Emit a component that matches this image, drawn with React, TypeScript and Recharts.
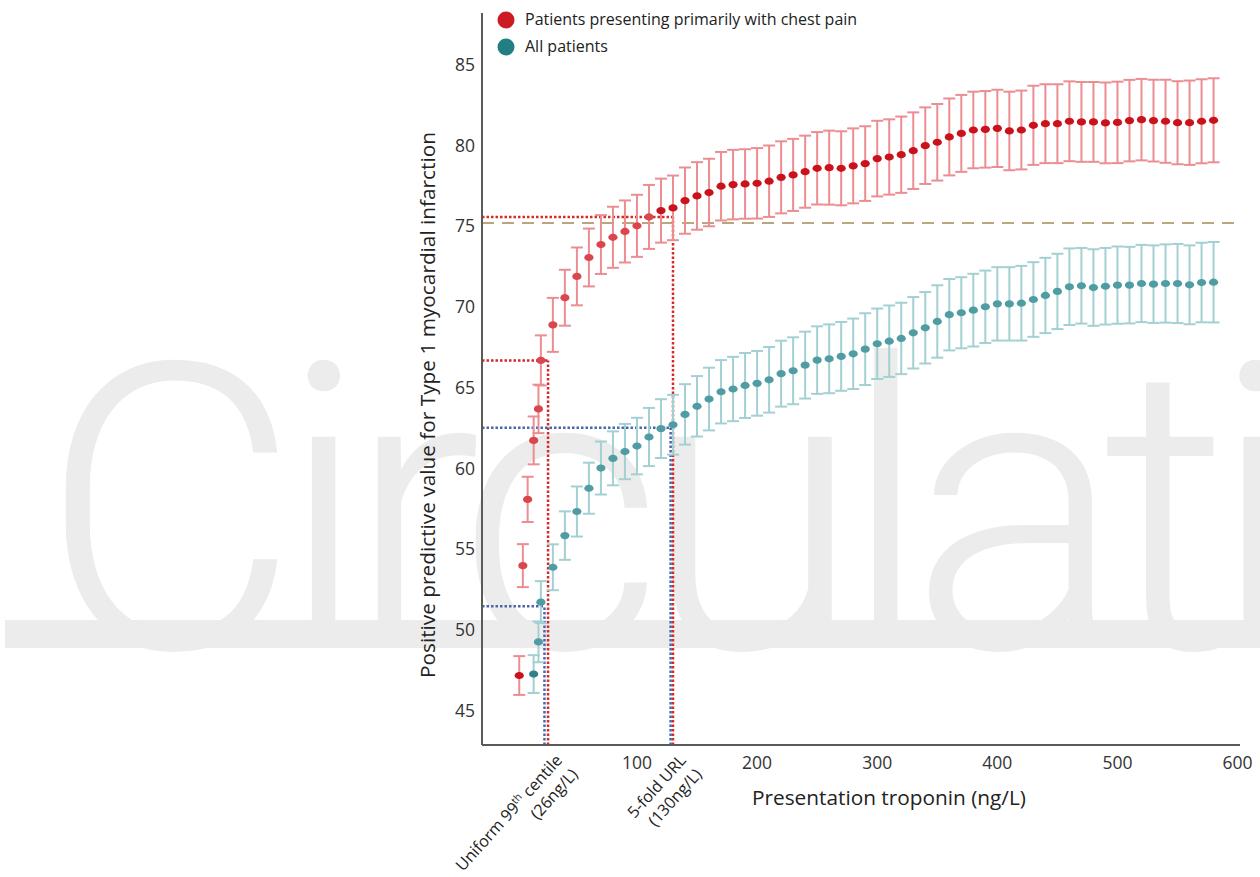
import {
  ScatterChart,
  Scatter,
  XAxis,
  YAxis,
  ErrorBar,
  ReferenceLine,
  Customized,
} from 'recharts';

// troponin thresholds (ng/L)
const chestPainX = [2, 5, 9, 14, 18, 20, 30, 40, 50, 60, 70, 80, 90, 100, 110, 120, 130, 140, 150, 160, 170, 180, 190, 200, 210, 220, 230, 240, 250, 260, 270, 280, 290, 300, 310, 320, 330, 340, 350, 360, 370, 380, 390, 400, 410, 420, 430, 440, 450, 460, 470, 480, 490, 500, 510, 520, 530, 540, 550, 560, 570, 580];
const chestPainPPV = [47.2, 54.0, 58.1, 61.75, 63.7, 66.7, 68.9, 70.58, 71.9, 73.07, 73.87, 74.32, 74.68, 75.03, 75.58, 75.97, 76.14, 76.59, 76.88, 77.09, 77.48, 77.58, 77.62, 77.66, 77.79, 78.03, 78.18, 78.38, 78.59, 78.63, 78.59, 78.74, 78.88, 79.19, 79.29, 79.43, 79.68, 79.99, 80.2, 80.53, 80.75, 80.96, 81.0, 81.06, 80.9, 80.96, 81.25, 81.35, 81.35, 81.5, 81.46, 81.46, 81.4, 81.43, 81.54, 81.6, 81.54, 81.5, 81.41, 81.41, 81.5, 81.56];
const chestPainErr = [1.2, 1.33, 1.4, 1.48, 1.5, 1.55, 1.67, 1.73, 1.79, 1.79, 1.82, 1.89, 1.92, 1.92, 1.98, 1.98, 2.0, 2.05, 2.09, 2.09, 2.12, 2.15, 2.15, 2.18, 2.21, 2.23, 2.23, 2.23, 2.24, 2.29, 2.29, 2.32, 2.31, 2.34, 2.33, 2.36, 2.37, 2.37, 2.37, 2.38, 2.38, 2.37, 2.37, 2.39, 2.43, 2.44, 2.45, 2.44, 2.44, 2.47, 2.47, 2.47, 2.5, 2.52, 2.52, 2.52, 2.53, 2.57, 2.57, 2.61, 2.6, 2.6];

const allX = [14, 18, 20, 30, 40, 50, 60, 70, 80, 90, 100, 110, 120, 130, 140, 150, 160, 170, 180, 190, 200, 210, 220, 230, 240, 250, 260, 270, 280, 290, 300, 310, 320, 330, 340, 350, 360, 370, 380, 390, 400, 410, 420, 430, 440, 450, 460, 470, 480, 490, 500, 510, 520, 530, 540, 550, 560, 570, 580];
const allPPV = [47.29, 49.28, 51.74, 53.9, 55.86, 57.35, 58.79, 60.04, 60.64, 61.06, 61.4, 61.96, 62.48, 62.72, 63.36, 63.86, 64.31, 64.76, 64.93, 65.15, 65.28, 65.5, 65.88, 66.06, 66.41, 66.72, 66.8, 66.95, 67.11, 67.4, 67.73, 67.89, 68.06, 68.41, 68.72, 69.11, 69.53, 69.65, 69.81, 70.02, 70.2, 70.2, 70.24, 70.47, 70.72, 70.97, 71.26, 71.32, 71.21, 71.29, 71.36, 71.36, 71.46, 71.42, 71.46, 71.46, 71.38, 71.52, 71.54];
const allErr = [1.17, 1.26, 1.3, 1.42, 1.5, 1.55, 1.58, 1.64, 1.67, 1.71, 1.75, 1.8, 1.82, 1.85, 1.87, 1.87, 1.94, 1.96, 1.99, 2.01, 2.0, 2.03, 2.04, 2.07, 2.07, 2.09, 2.13, 2.13, 2.18, 2.22, 2.18, 2.21, 2.21, 2.21, 2.21, 2.24, 2.21, 2.2, 2.25, 2.24, 2.27, 2.27, 2.31, 2.31, 2.33, 2.33, 2.37, 2.34, 2.37, 2.37, 2.39, 2.37, 2.39, 2.4, 2.42, 2.45, 2.44, 2.46, 2.49];

const xTicks = [26, 100, 130, 200, 300, 400, 500, 600];
const yTicks = [45, 50, 55, 60, 65, 70, 75, 80, 85];

// cut-off guides: [threshold, ppv]
const redGuides = [[26, 66.7], [130, 75.58]];
const blueGuides = [[23, 51.49], [128, 62.54]];
const dashedLevel = 75.2;

const X_MIN = -29;
const Y_MIN = 42.9;

const FONT = "'Open Sans', 'Noto Sans', sans-serif";

const chestPain = chestPainX.map((x, i) => ({ x, y: chestPainPPV[i], err: chestPainErr[i] }));
const allPatients = allX.map((x, i) => ({ x, y: allPPV[i], err: allErr[i] }));

const RedDot = (props: any) => {
  const { cx, cy, payload } = props;
  const light = payload.x > 3 && payload.x <= 110;
  return <ellipse cx={cx} cy={cy} rx={4.6} ry={3.6} fill={light ? '#d9464d' : '#c9121c'} />;
};

const TealDot = (props: any) => {
  const { cx, cy, payload } = props;
  return <ellipse cx={cx} cy={cy} rx={4.6} ry={3.6} fill={payload.x === 14 ? '#2f8388' : '#4f9ca2'} />;
};

const XTick = (props: any) => {
  const { x, y, payload } = props;
  const v = payload.value;
  if (v === 26) {
    return (
      <g transform={`translate(${x + 15},${y + 14}) rotate(-48)`} fontFamily={FONT} fontSize={16.2} fill="#222">
        <text textAnchor="end">
          Uniform 99<tspan fontSize={10.5} dy={-6}>th</tspan>
          <tspan dy={6}> centile</tspan>
        </text>
        <text y={21} textAnchor="end">(26ng/L)</text>
      </g>
    );
  }
  if (v === 130) {
    return (
      <g transform={`translate(${x + 14},${y + 14}) rotate(-48)`} fontFamily={FONT} fontSize={16.2} fill="#222">
        <text textAnchor="end">5-fold URL</text>
        <text y={21} textAnchor="end">(130ng/L)</text>
      </g>
    );
  }
  return (
    <text x={x} y={y + 22} textAnchor="middle" fontFamily={FONT} fontSize={17.5} fill="#333">
      {v}
    </text>
  );
};

const YTick = (props: any) => {
  const { x, y, payload } = props;
  return (
    <text x={x - 5} y={y + 6} textAnchor="end" fontFamily={FONT} fontSize={17.5} fill="#333">
      {payload.value}
    </text>
  );
};

const Overlay = () => (
  <g fontFamily={FONT}>
    <circle cx={506} cy={20} r={8.5} fill="#cc1b22" />
    <text x={525} y={25} fontSize={16} fill="#222">Patients presenting primarily with chest pain</text>
    <circle cx={506} cy={47} r={8.5} fill="#1f7f83" />
    <text x={525} y={52} fontSize={16} fill="#222">All patients</text>
    <text transform="translate(435,405) rotate(-90)" textAnchor="middle" fontSize={20.8} fill="#222">
      Positive predictive value for Type 1 myocardial infarction
    </text>
    <text x={889} y={805} textAnchor="middle" fontSize={20.8} fill="#222">
      Presentation troponin (ng/L)
    </text>
  </g>
);

const Watermark = () => (
  <svg width={1260} height={877} style={{ position: 'absolute', left: 0, top: 0 }}>
    <rect x={5} y={620} width={1255} height={28} fill="#ececec" />
    <text x={40} y={648} fontSize={400} fontFamily="Roboto, sans-serif" fontWeight={300} fill="#ececec" textLength={1260} lengthAdjust="spacing">
      Circulati
    </text>
  </svg>
);

const App = () => {
  return (
    <div style={{ position: 'absolute', left: 0, top: 0, width: 1260, height: 877, background: '#fff' }}>
      <Watermark />
      <div style={{ position: 'absolute', left: 0, top: 0 }}>
        <ScatterChart width={1260} height={877} margin={{ top: 13, right: 20, bottom: 0, left: 0 }}>
          <XAxis
            type="number"
            dataKey="x"
            domain={[X_MIN, 602]}
            ticks={xTicks}
            allowDataOverflow
            height={132}
            tickSize={0}
            tickLine={false}
            interval={0}
            axisLine={{ stroke: '#5a5a5a', strokeWidth: 2 }}
            tick={<XTick />}
          />
          <YAxis
            type="number"
            dataKey="y"
            domain={[Y_MIN, 88.2]}
            ticks={yTicks}
            allowDataOverflow
            width={482}
            tickSize={0}
            tickLine={false}
            interval={0}
            axisLine={{ stroke: '#5a5a5a', strokeWidth: 2 }}
            tick={<YTick />}
          />
          <ReferenceLine y={dashedLevel} stroke="#b9a67f" strokeWidth={2} strokeDasharray="12 8" />
          {redGuides.map(([gx, gy]) => (
            <ReferenceLine
              key={`rh${gx}`}
              segment={[{ x: X_MIN, y: gy }, { x: gx, y: gy }]}
              stroke="#d42a2a"
              strokeWidth={2.5}
              strokeDasharray="2.5 2"
              ifOverflow="visible"
            />
          ))}
          {redGuides.map(([gx, gy]) => (
            <ReferenceLine
              key={`rv${gx}`}
              segment={[{ x: gx, y: Y_MIN }, { x: gx, y: gy }]}
              stroke="#d42a2a"
              strokeWidth={2.5}
              strokeDasharray="2.5 2"
              ifOverflow="visible"
            />
          ))}
          {blueGuides.map(([gx, gy]) => (
            <ReferenceLine
              key={`bh${gx}`}
              segment={[{ x: X_MIN, y: gy }, { x: gx, y: gy }]}
              stroke="#4a66ad"
              strokeWidth={2.5}
              strokeDasharray="2.5 2"
              ifOverflow="visible"
            />
          ))}
          {blueGuides.map(([gx, gy]) => (
            <ReferenceLine
              key={`bv${gx}`}
              segment={[{ x: gx, y: Y_MIN }, { x: gx, y: gy }]}
              stroke="#4a66ad"
              strokeWidth={2.5}
              strokeDasharray="2.5 2"
              ifOverflow="visible"
            />
          ))}
          <Scatter data={allPatients} shape={<TealDot />} isAnimationActive={false}>
            <ErrorBar dataKey="err" direction="y" width={6} stroke="#a2d0d3" strokeWidth={2} />
          </Scatter>
          <Scatter data={chestPain} shape={<RedDot />} isAnimationActive={false}>
            <ErrorBar dataKey="err" direction="y" width={6} stroke="#ec8d92" strokeWidth={2} />
          </Scatter>
          <Customized component={Overlay} />
        </ScatterChart>
      </div>
    </div>
  );
};

export default App;
